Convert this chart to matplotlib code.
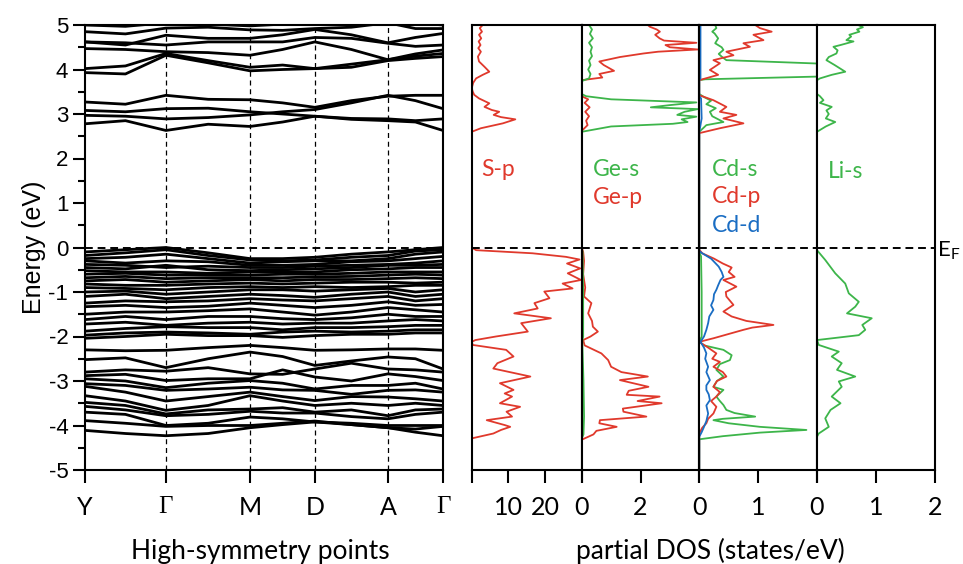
import numpy as np
import matplotlib
matplotlib.use("Agg")
import matplotlib.pyplot as plt

plt.rcParams['font.family'] = ['Lato', 'DejaVu Sans']

RED = '#e0392c'
GREEN = '#3db54a'
BLUE = '#1a6dc3'

# k-path: high-symmetry points and the sampled k positions of the bands
kpoints = [0.0, 0.226, 0.461, 0.642, 0.846, 1.0]
klabels = ['Y', 'Γ', 'M', 'D', 'A', 'Γ']
ksamples = [0.0, 0.113, 0.226, 0.344, 0.461, 0.552, 0.642, 0.744, 0.846, 0.923, 1.0]

# conduction bands (eV) at ksamples
cond_bands = [
    [2.78, 2.85, 2.63, 2.77, 2.72, 2.82, 2.95, 2.88, 2.85, 2.82, 2.63],
    [2.97, 2.95, 2.89, 2.92, 2.98, 3.05, 3.10, 3.25, 3.42, 3.30, 3.12],
    [3.08, 3.05, 3.12, 3.13, 3.05, 3.00, 2.95, 2.90, 2.89, 2.85, 2.89],
    [3.27, 3.22, 3.42, 3.33, 3.32, 3.25, 3.15, 3.30, 3.40, 3.42, 3.42],
    [3.93, 3.90, 4.32, 4.15, 3.97, 4.00, 4.02, 4.05, 4.20, 4.25, 4.29],
    [4.02, 4.08, 4.36, 4.20, 4.05, 4.10, 4.02, 4.12, 4.22, 4.30, 4.36],
    [4.47, 4.45, 4.40, 4.38, 4.32, 4.45, 4.62, 4.45, 4.22, 4.35, 4.44],
    [4.62, 4.60, 4.55, 4.62, 4.62, 4.62, 4.72, 4.70, 4.59, 4.52, 4.55],
    [4.62, 4.55, 4.77, 4.70, 4.70, 4.78, 4.90, 4.78, 4.60, 4.72, 4.81],
    [4.85, 4.80, 4.93, 4.95, 4.89, 4.88, 4.92, 4.95, 5.05, 4.92, 4.92],
    [5.00, 4.97, 5.05, 5.02, 4.98, 5.02, 5.05, 5.10, 5.10, 5.05, 5.00],
]

# valence bands (eV) at ksamples
val_bands = [
    [-0.10, -0.05, 0.00, -0.12, -0.25, -0.25, -0.22, -0.15, -0.10, -0.05, 0.00],
    [-0.18, -0.12, -0.05, -0.18, -0.28, -0.30, -0.28, -0.22, -0.18, -0.08, -0.05],
    [-0.25, -0.22, -0.15, -0.25, -0.35, -0.32, -0.30, -0.30, -0.25, -0.15, -0.10],
    [-0.30, -0.35, -0.30, -0.32, -0.40, -0.40, -0.38, -0.32, -0.30, -0.25, -0.20],
    [-0.38, -0.40, -0.45, -0.42, -0.45, -0.45, -0.42, -0.40, -0.38, -0.35, -0.30],
    [-0.45, -0.48, -0.40, -0.50, -0.52, -0.50, -0.48, -0.45, -0.40, -0.40, -0.38],
    [-0.52, -0.55, -0.55, -0.58, -0.55, -0.55, -0.55, -0.50, -0.48, -0.45, -0.45],
    [-0.60, -0.58, -0.62, -0.62, -0.62, -0.60, -0.60, -0.58, -0.55, -0.55, -0.55],
    [-0.68, -0.65, -0.70, -0.68, -0.68, -0.68, -0.66, -0.65, -0.62, -0.60, -0.62],
    [-0.75, -0.72, -0.78, -0.75, -0.72, -0.75, -0.72, -0.72, -0.70, -0.68, -0.70],
    [-0.82, -0.85, -0.85, -0.82, -0.80, -0.82, -0.80, -0.78, -0.78, -0.80, -0.78],
    [-0.90, -0.92, -0.95, -0.90, -0.88, -0.90, -0.88, -0.90, -0.88, -0.85, -0.85],
    [-1.00, -0.98, -1.05, -1.00, -0.95, -0.95, -0.98, -0.95, -0.92, -1.00, -0.95],
    [-1.10, -1.05, -1.15, -1.10, -1.05, -1.08, -1.12, -1.05, -1.00, -1.10, -1.05],
    [-1.25, -1.20, -1.22, -1.20, -1.15, -1.18, -1.20, -1.15, -1.10, -1.20, -1.15],
    [-1.33, -1.30, -1.35, -1.32, -1.25, -1.30, -1.35, -1.30, -1.22, -1.30, -1.28],
    [-1.50, -1.45, -1.45, -1.42, -1.38, -1.45, -1.52, -1.45, -1.35, -1.40, -1.45],
    [-1.62, -1.55, -1.62, -1.55, -1.55, -1.60, -1.62, -1.58, -1.50, -1.55, -1.55],
    [-1.72, -1.68, -1.75, -1.70, -1.68, -1.72, -1.70, -1.70, -1.65, -1.62, -1.65],
    [-1.88, -1.82, -1.78, -1.80, -1.80, -1.85, -1.80, -1.80, -1.78, -1.75, -1.75],
    [-1.97, -1.92, -1.90, -1.92, -1.95, -1.90, -1.88, -1.90, -1.88, -1.85, -1.85],
    [-2.04, -2.00, -1.95, -1.98, -1.98, -2.02, -1.98, -1.95, -1.95, -1.92, -1.92],
    [-2.30, -2.32, -2.31, -2.25, -2.20, -2.25, -2.31, -2.30, -2.28, -2.28, -2.31],
    [-2.52, -2.48, -2.70, -2.50, -2.35, -2.45, -2.65, -2.55, -2.46, -2.50, -2.73],
    [-2.80, -2.75, -2.78, -2.70, -2.84, -2.85, -2.73, -2.60, -2.73, -2.75, -2.80],
    [-2.88, -2.85, -2.99, -2.95, -2.95, -2.75, -2.91, -3.00, -2.84, -2.90, -2.99],
    [-2.95, -3.00, -3.15, -3.05, -2.99, -3.05, -3.18, -3.10, -3.10, -3.05, -3.18],
    [-3.06, -3.10, -3.21, -3.18, -3.14, -3.20, -3.21, -3.30, -3.21, -3.20, -3.25],
    [-3.12, -3.25, -3.45, -3.35, -3.25, -3.35, -3.44, -3.35, -3.36, -3.40, -3.45],
    [-3.33, -3.45, -3.66, -3.55, -3.33, -3.45, -3.55, -3.50, -3.55, -3.50, -3.55],
    [-3.48, -3.55, -3.74, -3.65, -3.63, -3.60, -3.70, -3.65, -3.78, -3.65, -3.63],
    [-3.57, -3.65, -3.78, -3.75, -3.68, -3.72, -3.72, -3.80, -3.85, -3.75, -3.70],
    [-3.70, -3.75, -4.00, -3.95, -3.81, -3.85, -3.92, -3.95, -4.00, -4.00, -4.00],
    [-3.89, -3.95, -4.02, -4.00, -4.00, -3.95, -3.90, -3.98, -4.05, -4.08, -4.02],
    [-4.11, -4.18, -4.23, -4.18, -4.05, -3.98, -3.92, -3.98, -4.05, -4.15, -4.23],
]

# partial DOS, (energy, states/eV)
s_p = [(5.0, 3.0), (4.93, 2.2), (4.85, 2.8), (4.78, 2.0), (4.70, 2.6), (4.63, 1.9),
       (4.55, 2.4), (4.48, 1.8), (4.40, 2.5), (4.29, 1.7), (4.18, 2.0), (4.06, 3.5),
       (3.95, 4.8), (3.88, 3.0), (3.80, 1.2), (3.70, 0.4), (3.58, 0.0), (3.50, 0.3),
       (3.43, 0.7), (3.35, 2.0), (3.24, 4.8), (3.16, 3.5), (3.09, 5.5), (3.05, 7.5),
       (2.98, 6.0), (2.93, 8.0), (2.88, 11.9), (2.79, 8.5), (2.68, 2.5), (2.60, 0.0),
       (0.0, 0.0), (-0.06, 1.2), (-0.13, 16.6), (-0.21, 25.7), (-0.27, 29.4),
       (-0.36, 26.0), (-0.47, 29.6), (-0.58, 26.2), (-0.73, 29.8), (-0.81, 24.8),
       (-0.92, 27.5), (-0.99, 19.8), (-1.14, 21.2), (-1.25, 17.1), (-1.37, 18.0),
       (-1.48, 11.6), (-1.59, 21.6), (-1.70, 13.5), (-1.89, 15.3), (-2.00, 6.6),
       (-2.08, 1.0), (-2.12, 0.0), (-2.19, 0.3), (-2.30, 9.4), (-2.45, 11.4),
       (-2.60, 7.0), (-2.72, 5.9), (-2.90, 16.0), (-3.05, 7.7), (-3.20, 11.4),
       (-3.28, 9.0), (-3.35, 11.0), (-3.50, 7.7), (-3.58, 13.2), (-3.69, 9.5),
       (-3.80, 11.0), (-3.88, 4.1), (-3.99, 9.0), (-4.03, 10.5), (-4.10, 8.0),
       (-4.18, 5.9), (-4.29, 0.0), (-5.0, 0.0)]

ge_p = [(5.0, 2.25), (4.96, 2.32), (4.90, 2.55), (4.85, 2.66), (4.78, 2.50), (4.70, 2.65),
        (4.65, 2.80), (4.60, 3.90), (4.55, 2.85), (4.50, 3.00), (4.45, 3.95), (4.40, 2.60),
        (4.36, 2.10), (4.28, 1.30), (4.18, 0.60), (4.10, 0.75), (3.97, 1.10), (3.90, 0.60),
        (3.82, 0.70), (3.76, 0.0), (3.40, 0.0), (3.33, 0.22), (3.25, 0.10), (3.15, 0.27),
        (3.05, 0.12), (2.95, 0.25), (2.85, 0.15), (2.75, 0.20), (2.62, 0.0), (0.0, 0.0),
        (-0.1, 0.05), (-0.3, 0.08), (-0.6, 0.05), (-0.9, 0.12), (-1.1, 0.08), (-1.25, 0.33),
        (-1.48, 0.22), (-1.65, 0.35), (-1.78, 0.38), (-1.89, 0.55), (-2.0, 0.30),
        (-2.08, 0.05), (-2.2, 0.10), (-2.38, 0.67), (-2.53, 0.90), (-2.68, 1.00),
        (-2.80, 1.35), (-2.90, 2.25), (-2.98, 1.30), (-3.13, 2.27), (-3.22, 1.60),
        (-3.31, 1.53), (-3.35, 2.65), (-3.45, 1.90), (-3.50, 2.72), (-3.62, 1.40),
        (-3.69, 1.42), (-3.80, 2.20), (-3.88, 0.62), (-3.95, 0.60), (-4.03, 1.19),
        (-4.12, 0.50), (-4.20, 0.40), (-4.32, 0.0), (-5.0, 0.0)]

ge_s = [(5.0, 0.25), (4.9, 0.35), (4.8, 0.28), (4.7, 0.38), (4.6, 0.25), (4.5, 0.35),
        (4.4, 0.30), (4.3, 0.35), (4.2, 0.25), (4.1, 0.30), (4.0, 0.22), (3.9, 0.30),
        (3.80, 0.25), (3.74, 0.0), (3.45, 0.0), (3.40, 0.15), (3.33, 1.00), (3.26, 3.90),
        (3.20, 3.00), (3.15, 2.35), (3.11, 3.95), (3.05, 3.50), (2.98, 3.25), (2.94, 3.90),
        (2.88, 3.40), (2.82, 3.60), (2.78, 3.10), (2.72, 1.00), (2.60, 0.0), (0.0, 0.0),
        (-0.1, 0.03), (-1.0, 0.05), (-2.0, 0.05), (-2.1, 0.02), (-3.0, 0.06), (-3.8, 0.08),
        (-4.2, 0.06), (-4.3, 0.0), (-5.0, 0.0)]

cd_s = [(5.0, 0.27), (4.93, 0.29), (4.85, 0.22), (4.81, 0.26), (4.70, 0.32), (4.59, 0.27),
        (4.50, 0.38), (4.44, 0.41), (4.35, 0.33), (4.29, 0.38), (4.21, 0.46), (4.12, 2.3),
        (3.85, 2.3), (3.78, 0.10), (3.76, 0.0), (3.45, 0.0), (3.38, 0.08), (3.30, 0.20),
        (3.22, 0.12), (3.13, 0.28), (3.05, 0.18), (2.95, 0.22), (2.82, 0.41), (2.75, 0.12),
        (2.60, 0.0), (0.0, 0.0), (-0.1, 0.0), (-0.2, 0.03), (-1.0, 0.04), (-2.0, 0.04),
        (-2.12, 0.0), (-2.20, 0.08), (-2.30, 0.41), (-2.42, 0.55), (-2.53, 0.52),
        (-2.62, 0.35), (-2.75, 0.29), (-2.90, 0.41), (-3.0, 0.30), (-3.13, 0.24),
        (-3.20, 0.41), (-3.35, 0.29), (-3.45, 0.35), (-3.54, 0.41), (-3.65, 0.46),
        (-3.72, 0.60), (-3.80, 0.95), (-3.85, 0.40), (-3.88, 0.24), (-3.95, 0.50),
        (-4.03, 1.03), (-4.10, 1.82), (-4.16, 1.03), (-4.24, 0.40), (-4.31, 0.0), (-5.0, 0.0)]

cd_p = [(5.0, 0.95), (4.93, 1.03), (4.85, 1.23), (4.78, 0.92), (4.66, 1.09), (4.59, 0.75),
        (4.51, 0.86), (4.40, 0.46), (4.32, 0.58), (4.21, 0.24), (4.14, 0.35), (3.99, 0.18),
        (3.88, 0.32), (3.76, 0.0), (3.42, 0.0), (3.39, 0.07), (3.31, 0.24), (3.16, 0.46),
        (3.05, 0.35), (2.98, 0.63), (2.90, 0.41), (2.79, 0.75), (2.68, 0.35), (2.57, 0.0),
        (0.0, 0.0), (-0.05, 0.0), (-0.13, 0.05), (-0.25, 0.25), (-0.36, 0.40), (-0.45, 0.55),
        (-0.55, 0.50), (-0.66, 0.60), (-0.73, 0.41), (-0.88, 0.63), (-1.0, 0.45),
        (-1.10, 0.46), (-1.29, 0.58), (-1.44, 0.41), (-1.55, 0.55), (-1.65, 0.80),
        (-1.74, 1.26), (-1.80, 0.90), (-1.85, 0.75), (-2.04, 0.24), (-2.12, 0.0),
        (-2.25, 0.15), (-2.38, 0.29), (-2.50, 0.22), (-2.57, 0.35), (-2.68, 0.24),
        (-2.80, 0.40), (-2.90, 0.46), (-3.0, 0.30), (-3.13, 0.24), (-3.25, 0.35),
        (-3.35, 0.29), (-3.45, 0.20), (-3.58, 0.29), (-3.73, 0.24), (-3.85, 0.15),
        (-3.95, 0.12), (-4.05, 0.05), (-4.18, 0.0), (-5.0, 0.0)]

cd_d = [(5.0, 0.02), (3.8, 0.02), (3.76, 0.0), (3.40, 0.0), (3.35, 0.03), (2.90, 0.04),
        (2.60, 0.0), (0.0, 0.0), (-0.08, 0.0), (-0.13, 0.05), (-0.25, 0.20), (-0.43, 0.33),
        (-0.55, 0.38), (-0.66, 0.41), (-0.73, 0.36), (-0.85, 0.32), (-0.95, 0.29),
        (-1.05, 0.25), (-1.18, 0.24), (-1.30, 0.20), (-1.40, 0.24), (-1.55, 0.17),
        (-1.70, 0.15), (-1.85, 0.12), (-2.0, 0.08), (-2.12, 0.02), (-2.25, 0.08),
        (-2.38, 0.12), (-2.50, 0.10), (-2.68, 0.15), (-2.80, 0.12), (-2.98, 0.18),
        (-3.10, 0.12), (-3.20, 0.12), (-3.30, 0.16), (-3.43, 0.18), (-3.55, 0.12),
        (-3.73, 0.15), (-3.90, 0.12), (-4.03, 0.08), (-4.15, 0.04), (-4.25, 0.0), (-5.0, 0.0)]

li_s = [(5.0, 0.70), (4.95, 0.78), (4.90, 0.68), (4.85, 0.72), (4.78, 0.55), (4.74, 0.58),
        (4.66, 0.50), (4.63, 0.62), (4.55, 0.40), (4.51, 0.28), (4.43, 0.35), (4.36, 0.33),
        (4.28, 0.20), (4.21, 0.16), (4.10, 0.30), (3.95, 0.48), (3.88, 0.25), (3.80, 0.05),
        (3.76, 0.0), (3.45, 0.0), (3.40, 0.05), (3.31, 0.11), (3.25, 0.05), (3.16, 0.25),
        (3.08, 0.16), (3.0, 0.20), (2.90, 0.15), (2.82, 0.31), (2.72, 0.15), (2.60, 0.0),
        (0.0, 0.0), (-0.06, 0.0), (-0.28, 0.14), (-0.58, 0.31), (-0.81, 0.48), (-1.03, 0.54),
        (-1.22, 0.71), (-1.33, 0.65), (-1.48, 0.51), (-1.59, 0.93), (-1.74, 0.77),
        (-1.85, 0.82), (-1.97, 0.71), (-2.08, 0.0), (-2.19, 0.03), (-2.34, 0.37),
        (-2.45, 0.25), (-2.60, 0.42), (-2.75, 0.34), (-2.90, 0.65), (-3.01, 0.37),
        (-3.13, 0.42), (-3.35, 0.25), (-3.50, 0.40), (-3.65, 0.23), (-3.84, 0.14),
        (-4.03, 0.20), (-4.18, 0.03), (-4.25, 0.0), (-5.0, 0.0)]

W, H = 963, 564
fig = plt.figure(figsize=(W / 100, H / 100), dpi=100)


def box(x0, y0, x1, y1):
    # pixel box -> figure fraction
    return [x0 / W, 1 - y1 / H, (x1 - x0) / W, (y1 - y0) / H]


# ---- band structure ----
ax = fig.add_axes(box(85, 25, 443, 470))
for b in cond_bands + val_bands:
    ax.plot(ksamples, b, color='black', lw=2.0, solid_capstyle='round')
for kp in kpoints[1:-1]:
    ax.axvline(kp, color='black', lw=0.9, ls=(0, (4, 3)))
ax.axhline(0, color='black', lw=1.4, ls=(0, (4, 2.5)))
ax.set_xlim(0, 1)
ax.set_ylim(-5, 5)
ax.set_yticks(range(-5, 6))
ax.set_yticklabels([str(v) for v in range(-5, 6)], family='Liberation Sans', fontsize=16)
ax.set_yticks(np.arange(-4.5, 5, 1.0), minor=True)
ax.set_xticks(kpoints)
ax.set_xticklabels(klabels, fontsize=18)
for t in ax.get_xticklabels():
    if t.get_text() == 'Γ':
        t.set_family('Liberation Serif')
ax.tick_params(axis='y', which='major', direction='out', length=9, width=1.5, pad=3)
ax.tick_params(axis='y', which='minor', direction='out', length=5, width=1.5)
ax.tick_params(axis='x', direction='out', length=9, width=1.5, pad=10)
for s in ax.spines.values():
    s.set_linewidth(1.5)
ax.set_ylabel('Energy (eV)', family='Liberation Sans', fontsize=18, labelpad=2)

# ---- partial DOS panels ----
panels = [
    (471.7, 581.7, 30, [0, 10, 20, 30], ['', '10', '20', ''], [(s_p, RED)]),
    (581.7, 699.3, 4, [0, 2, 4], ['0', '2', ''], [(ge_p, RED), (ge_s, GREEN)]),
    (699.3, 817.0, 2, [0, 1, 2], ['0', '1', ''], [(cd_s, GREEN), (cd_p, RED), (cd_d, BLUE)]),
    (817.0, 934.7, 2, [0, 1, 2], ['0', '1', '2'], [(li_s, GREEN)]),
]
for x0, x1, xmax, ticks, tlabels, curves in panels:
    a = fig.add_axes(box(x0, 25, x1, 470))
    for data, col in curves:
        e, v = zip(*data)
        a.plot(v, e, color=col, lw=1.3)
    a.axhline(0, color='black', lw=1.4, ls=(0, (4, 2.5)))
    a.set_xlim(0, xmax)
    a.set_ylim(-5, 5)
    a.set_yticks([])
    a.set_xticks(ticks)
    a.set_xticklabels(tlabels, fontsize=18)
    a.tick_params(axis='x', direction='out', length=9, width=1.5, pad=10)
    for s in a.spines.values():
        s.set_linewidth(1.5)

lab = dict(fontsize=16.5, va='center', ha='left')
fig.text(481.7 / W, 1 - 170 / H, 'S-p', color=RED, **lab)
fig.text(593.3 / W, 1 - 170 / H, 'Ge-s', color=GREEN, **lab)
fig.text(593.3 / W, 1 - 198 / H, 'Ge-p', color=RED, **lab)
fig.text(711.7 / W, 1 - 169 / H, 'Cd-s', color=GREEN, **lab)
fig.text(711.7 / W, 1 - 197 / H, 'Cd-p', color=RED, **lab)
fig.text(711.7 / W, 1 - 225 / H, 'Cd-d', color=BLUE, **lab)
fig.text(828.3 / W, 1 - 172 / H, 'Li-s', color=GREEN, **lab)
fig.text(937 / W, 1 - 251 / H, r'E$_\mathregular{F}$', fontsize=16, va='center', ha='left')

fig.text(260 / W, 1 - 551 / H, 'High-symmetry points', fontsize=19, ha='center', va='center')
fig.text(710 / W, 1 - 551 / H, 'partial DOS (states/eV)', fontsize=19, ha='center', va='center')

fig.savefig('out.png', dpi=100)
